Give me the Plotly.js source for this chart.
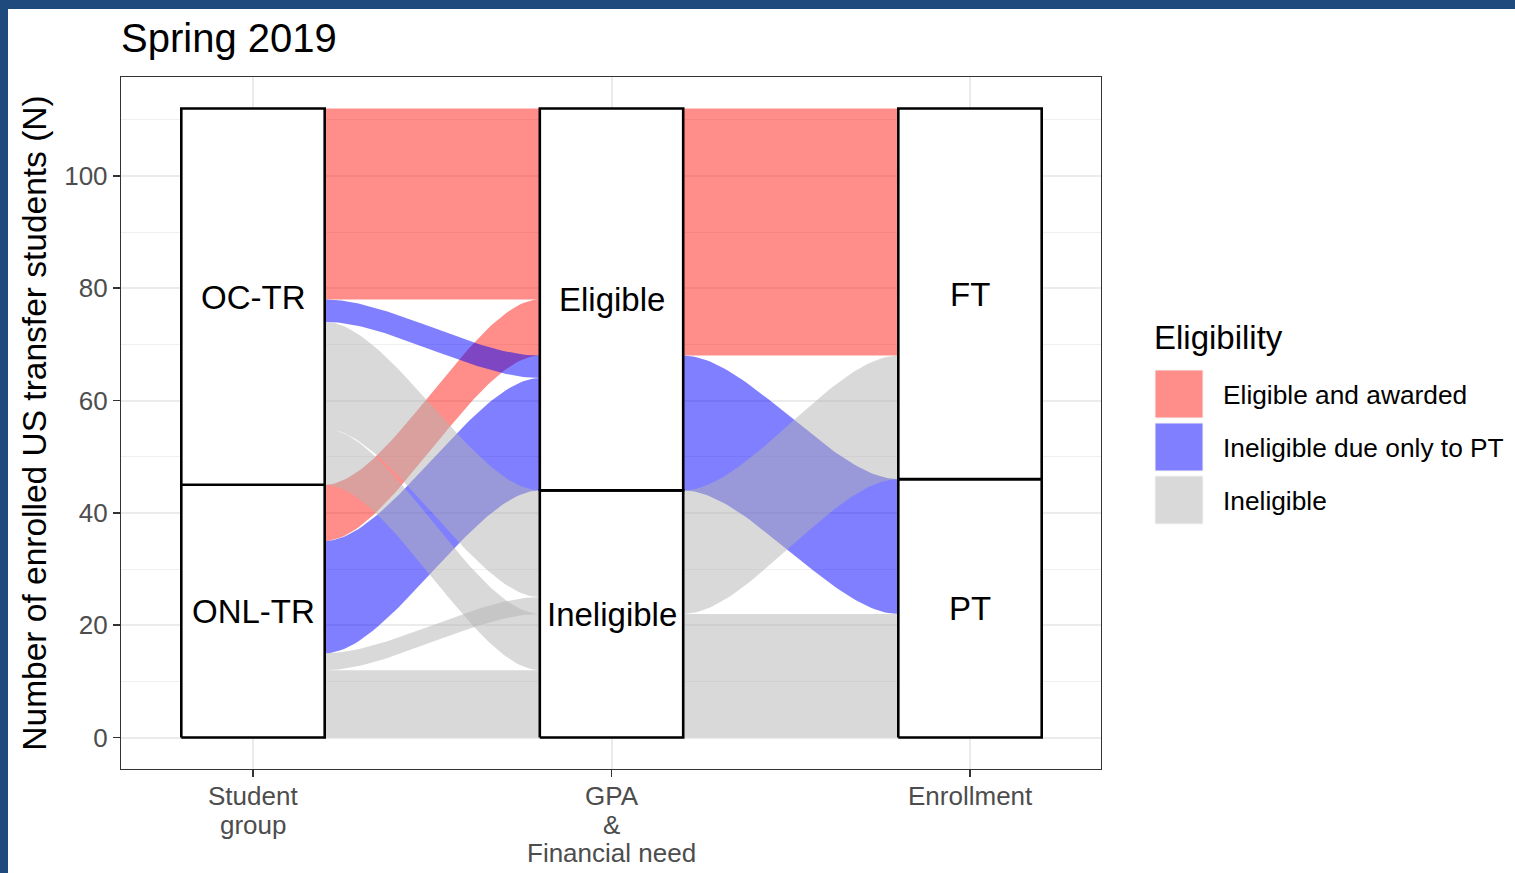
<!DOCTYPE html>
<html><head><meta charset="utf-8">
<script src="https://cdn.plot.ly/plotly-3.0.1.min.js"></script>
<style>
html,body{margin:0;padding:0;background:#1F4A7E;width:1515px;height:873px;overflow:hidden;}
#chart{position:absolute;left:8px;top:9px;width:1507px;height:864px;background:#fff;}
</style></head><body><div id="chart"></div>
<script>
// ---------------- data ----------------
const axisNames = ['Student group', 'GPA & Financial need', 'Enrollment'];
const axisLabelLines = [['Student', 'group'], ['GPA', '&', 'Financial need'], ['Enrollment']];
// stratum levels, listed bottom to top
const groupLevels = ['ONL-TR', 'OC-TR'];
const gpaLevels = ['Ineligible', 'Eligible'];
const enrollLevels = ['PT', 'FT'];
const statusLevels = ['Eligible and awarded', 'Ineligible due only to PT', 'Ineligible'];
const statusColors = ['rgba(255,28,20,0.5)', 'rgba(0,0,255,0.5)', 'rgba(179,179,179,0.5)'];

// alluvia (one entry per path through the three axes)
const alluvGroup  = ['ONL-TR', 'ONL-TR', 'ONL-TR', 'ONL-TR', 'OC-TR', 'OC-TR', 'OC-TR', 'OC-TR'];
const alluvGpa    = ['Ineligible', 'Ineligible', 'Eligible', 'Eligible', 'Ineligible', 'Ineligible', 'Eligible', 'Eligible'];
const alluvEnroll = ['PT', 'FT', 'PT', 'FT', 'PT', 'FT', 'PT', 'FT'];
const alluvStatus = ['Ineligible', 'Ineligible', 'Ineligible due only to PT', 'Eligible and awarded',
                     'Ineligible', 'Ineligible', 'Ineligible due only to PT', 'Eligible and awarded'];
const alluvCount  = [12, 3, 20, 10, 10, 19, 4, 34];

// ---------------- layout constants ----------------
const FONT = 'Liberation Sans, Arial, Helvetica, sans-serif';
const W = 0.4;          // stratum width (x units)
const K = 0.3;          // bezier control offset
const PANEL = {l: 121, r: 1101, t: 77, b: 769};   // absolute page pixels
const px2x = px => (px - PANEL.l) / (PANEL.r - PANEL.l);
const py2y = py => (PANEL.b - py) / (PANEL.b - PANEL.t);

// ---------------- compute stacking ----------------
const levelsByAxis = [groupLevels, gpaLevels, enrollLevels];
const valuesByAxis = [alluvGroup, alluvGpa, alluvEnroll];
const sortKeys = [[1, 2], [2, 0], [1, 0]];
const n = alluvCount.length;
const lvl = (a, i) => levelsByAxis[a].indexOf(valuesByAxis[a][i]);
const lodeLo = [], lodeHi = [];
for (let a = 0; a < 3; a++) {
  const order = [...Array(n).keys()].sort((p, q) => {
    const kp = [lvl(a, p), lvl(sortKeys[a][0], p), lvl(sortKeys[a][1], p), p];
    const kq = [lvl(a, q), lvl(sortKeys[a][0], q), lvl(sortKeys[a][1], q), q];
    for (let j = 0; j < 4; j++) if (kp[j] !== kq[j]) return kp[j] - kq[j];
    return 0;
  });
  lodeLo.push(new Array(n)); lodeHi.push(new Array(n));
  let cum = 0;
  for (const i of order) { lodeLo[a][i] = cum; cum += alluvCount[i]; lodeHi[a][i] = cum; }
}

const bez = (p0, p1, p2, p3, s) => {
  const u = 1 - s;
  return u * u * u * p0 + 3 * u * u * s * p1 + 3 * u * s * s * p2 + s * s * s * p3;
};

const traces = [];
// flows, grouped by status (draw order: red, blue, gray)
for (let si = 0; si < statusLevels.length; si++) {
  for (let a = 0; a < 2; a++) {
    let segs = [];
    for (let i = 0; i < n; i++) {
      if (alluvStatus[i] !== statusLevels[si]) continue;
      segs.push({l0: lodeLo[a][i], h0: lodeHi[a][i], l1: lodeLo[a + 1][i], h1: lodeHi[a + 1][i]});
    }
    segs.sort((p, q) => p.l0 - q.l0);
    const merged = [];
    for (const s of segs) {
      const prev = merged[merged.length - 1];
      if (prev && prev.h0 === s.l0 && prev.h1 === s.l1) { prev.h0 = s.h0; prev.h1 = s.h1; }
      else merged.push({...s});
    }
    const xL = (a + 1) + W / 2, xR = (a + 2) - W / 2, dx = xR - xL;
    for (const m of merged) {
      const xs = [], ys = [];
      const N = 60;
      for (let k = 0; k <= N; k++) {
        const s = k / N;
        xs.push(bez(xL, xL + K * dx, xR - K * dx, xR, s));
        ys.push(bez(m.h0, m.h0, m.h1, m.h1, s));
      }
      for (let k = N; k >= 0; k--) {
        const s = k / N;
        xs.push(bez(xL, xL + K * dx, xR - K * dx, xR, s));
        ys.push(bez(m.l0, m.l0, m.l1, m.l1, s));
      }
      xs.push(xs[0]); ys.push(ys[0]);
      traces.push({type: 'scatter', mode: 'lines', x: xs, y: ys, fill: 'toself',
        fillcolor: statusColors[si], line: {width: 0, color: 'rgba(0,0,0,0)'},
        hoverinfo: 'skip', showlegend: false, name: statusLevels[si]});
    }
  }
}

// strata
const annotations = [];
for (let a = 0; a < 3; a++) {
  let cum = 0;
  for (const lev of levelsByAxis[a]) {
    let tot = 0;
    for (let i = 0; i < n; i++) if (valuesByAxis[a][i] === lev) tot += alluvCount[i];
    const lo = cum, hi = cum + tot; cum = hi;
    const c = a + 1;
    traces.push({type: 'scatter', mode: 'lines',
      x: [c - W / 2, c + W / 2, c + W / 2, c - W / 2, c - W / 2],
      y: [lo, lo, hi, hi, lo], fill: 'toself', fillcolor: '#ffffff',
      line: {color: '#000000', width: 2.6}, hoverinfo: 'skip', showlegend: false, name: lev});
    annotations.push({xref: 'x', yref: 'y', x: c, y: (lo + hi) / 2, text: lev, showarrow: false,
      xanchor: 'center', yanchor: 'middle', yshift: -0.5,
      font: {family: FONT, size: 33, color: '#000'}});
  }
}

// ---------------- annotations & shapes ----------------
for (let a = 0; a < 3; a++) {
  axisLabelLines[a].forEach((line, j) => {
    annotations.push({xref: 'x', yref: 'paper', x: a + 1, y: 0, text: line, showarrow: false,
      xanchor: 'center', yanchor: 'middle', yshift: -(27 + 28.6 * j),
      font: {family: FONT, size: 26, color: '#4D4D4D'}});
  });
}
// legend (custom, ggplot-like)
annotations.push({xref: 'paper', yref: 'paper', x: px2x(1152), y: py2y(337), text: 'Eligibility',
  showarrow: false, xanchor: 'left', yanchor: 'middle', font: {family: FONT, size: 33, color: '#000'}});
const shapes = [];
statusLevels.forEach((s, i) => {
  const top = 370 + 53 * i;
  shapes.push({type: 'rect', xref: 'paper', yref: 'paper', x0: px2x(1155), x1: px2x(1203),
    y0: py2y(top + 48), y1: py2y(top), fillcolor: statusColors[i], line: {color: '#f4f4f4', width: 1}});
  annotations.push({xref: 'paper', yref: 'paper', x: px2x(1221), y: py2y(top + 25), text: s,
    showarrow: false, xanchor: 'left', yanchor: 'middle', font: {family: FONT, size: 26.3, color: '#000'}});
});

const layout = {
  width: 1507, height: 864,
  margin: {l: PANEL.l - 8, r: 1515 - PANEL.r, t: PANEL.t - 9, b: 873 - PANEL.b, pad: 0},
  paper_bgcolor: '#ffffff', plot_bgcolor: '#ffffff',
  font: {family: FONT, color: '#000'},
  title: {text: 'Spring 2019', font: {family: FONT, size: 40, color: '#000'},
    x: 0, xref: 'paper', xanchor: 'left', y: 1 - 29 / 864, yref: 'container', yanchor: 'middle'},
  showlegend: false,
  xaxis: {range: [1 - 132 / 358.5, 3 + 131 / 358.5], tickmode: 'array', tickvals: [1, 2, 3],
    ticktext: axisNames, showticklabels: false, ticks: 'outside', ticklen: 7, tickwidth: 1.6, tickcolor: '#333',
    showgrid: true, gridcolor: '#EBEBEB', gridwidth: 2, zeroline: false,
    showline: true, mirror: true, linecolor: '#333', linewidth: 1.2, fixedrange: true},
  yaxis: {range: [-5.6, 117.6], tickmode: 'array', tickvals: [0, 20, 40, 60, 80, 100],
    ticks: 'outside', ticklen: 7, tickwidth: 1.6, tickcolor: '#333',
    tickfont: {family: FONT, size: 26, color: '#4D4D4D'},
    showgrid: true, gridcolor: '#EBEBEB', gridwidth: 2, zeroline: false,
    minor: {tickvals: [10, 30, 50, 70, 90, 110], showgrid: true, gridcolor: '#EFEFEF', gridwidth: 1, ticks: ''},
    showline: true, mirror: true, linecolor: '#333', linewidth: 1.2, fixedrange: true,
    title: {text: 'Number of enrolled US transfer students (N)', font: {family: FONT, size: 33.5, color: '#000'}, standoff: 7}},
  annotations: annotations,
  shapes: shapes
};
Plotly.newPlot('chart', traces, layout, {displayModeBar: false, staticPlot: true});
</script></body></html>
